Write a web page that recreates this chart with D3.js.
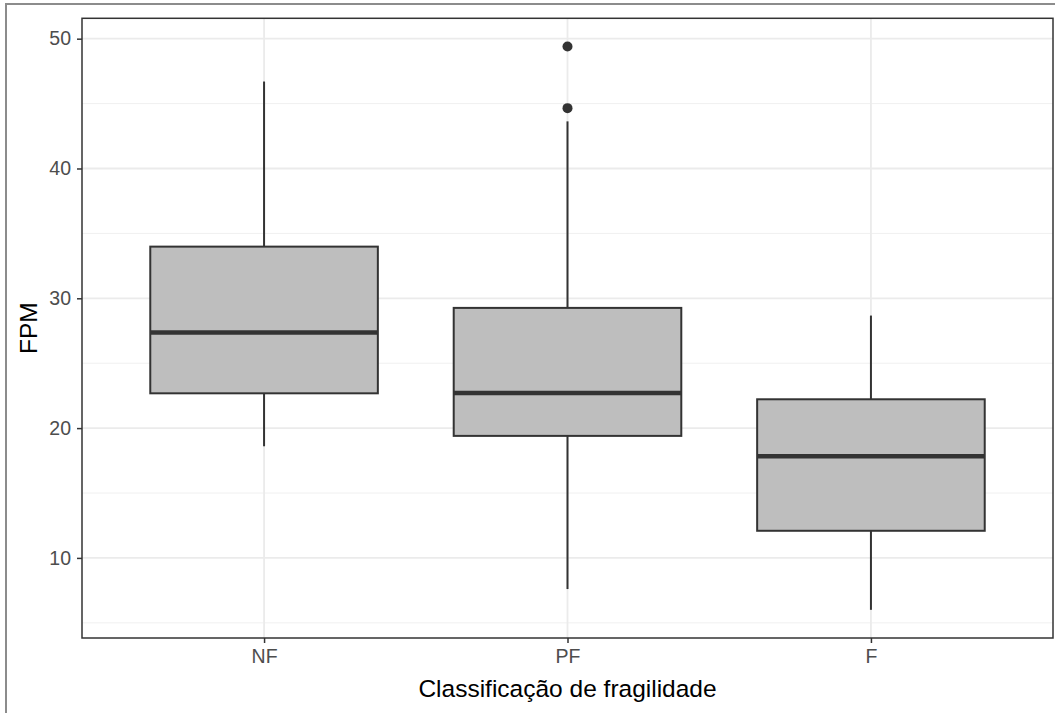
<!DOCTYPE html>
<html>
<head>
<meta charset="utf-8">
<script src="https://cdn.jsdelivr.net/npm/d3@7"></script>
<style>
    body { margin: 0; background: #fff; }
    text { font-family: "Liberation Sans", Arial, sans-serif; }
</style>
</head>
<body>
<script>

    //box plot summaries
    var categories = ["NF", "PF", "F"];
    var whiskerLow = [18.6, 7.6, 6.0];
    var q1Values = [22.68, 19.4, 12.09];
    var medianValues = [27.36, 22.7, 17.84];
    var q3Values = [33.98, 29.26, 22.22];
    var whiskerHigh = [46.7, 43.63, 28.67];
    var outlierValues = [[], [49.4, 44.65], []];

    var yTicks = [10, 20, 30, 40, 50];
    var yMinorTicks = [5, 15, 25, 35, 45];

    //begin script when window loads
    window.onload = setChart();

    function setChart(){

        //frame dimensions
        var width = 1055,
            height = 713;

        var panel = {left: 82, right: 1053, top: 18.3, bottom: 638};

        var svg = d3.select("body")
            .append("svg")
            .attr("width", width)
            .attr("height", height);

        //outer frame (top and left edges visible)
        svg.append("path")
            .attr("d", "M6,713 L6,4 L1055,4")
            .attr("fill", "none")
            .attr("stroke", "#8c8c8c")
            .attr("stroke-width", 2);

        //data range with ggplot-style 5% expansion
        var allValues = whiskerLow.concat(whiskerHigh, d3.merge(outlierValues));
        var lo = d3.min(allValues), hi = d3.max(allValues), pad = (hi - lo) * 0.05;

        var y = d3.scaleLinear()
            .domain([lo - pad, hi + pad])
            .range([panel.bottom, panel.top]);

        //discrete x positions 1..n with 0.6 expansion
        var x = d3.scaleLinear()
            .domain([0.4, categories.length + 0.6])
            .range([panel.left, panel.right]);

        var boxHalf = (x(1.375) - x(1));

        //grid lines
        var grid = svg.append("g");
        grid.selectAll(".minor")
            .data(yMinorTicks.filter(function(d){ return y(d) <= panel.bottom && y(d) >= panel.top; }))
            .enter().append("line")
            .attr("x1", panel.left).attr("x2", panel.right)
            .attr("y1", function(d){ return y(d); })
            .attr("y2", function(d){ return y(d); })
            .attr("stroke", "#f0f0f0")
            .attr("stroke-width", 1);
        grid.selectAll(".major")
            .data(yTicks)
            .enter().append("line")
            .attr("x1", panel.left).attr("x2", panel.right)
            .attr("y1", function(d){ return y(d); })
            .attr("y2", function(d){ return y(d); })
            .attr("stroke", "#ebebeb")
            .attr("stroke-width", 1.8);
        grid.selectAll(".vmajor")
            .data(categories)
            .enter().append("line")
            .attr("x1", function(d, i){ return x(i + 1); })
            .attr("x2", function(d, i){ return x(i + 1); })
            .attr("y1", panel.top).attr("y2", panel.bottom)
            .attr("stroke", "#ebebeb")
            .attr("stroke-width", 1.8);

        //boxes
        var boxes = svg.selectAll(".box")
            .data(categories)
            .enter().append("g")
            .attr("class", "box");

        boxes.append("line")
            .attr("x1", function(d, i){ return x(i + 1); })
            .attr("x2", function(d, i){ return x(i + 1); })
            .attr("y1", function(d, i){ return y(whiskerHigh[i]); })
            .attr("y2", function(d, i){ return y(q3Values[i]); })
            .attr("stroke", "#333")
            .attr("stroke-width", 2);

        boxes.append("line")
            .attr("x1", function(d, i){ return x(i + 1); })
            .attr("x2", function(d, i){ return x(i + 1); })
            .attr("y1", function(d, i){ return y(q1Values[i]); })
            .attr("y2", function(d, i){ return y(whiskerLow[i]); })
            .attr("stroke", "#333")
            .attr("stroke-width", 2);

        boxes.append("rect")
            .attr("x", function(d, i){ return x(i + 1) - boxHalf; })
            .attr("width", boxHalf * 2)
            .attr("y", function(d, i){ return y(q3Values[i]); })
            .attr("height", function(d, i){ return y(q1Values[i]) - y(q3Values[i]); })
            .attr("fill", "#bebebe")
            .attr("stroke", "#333")
            .attr("stroke-width", 2);

        boxes.append("line")
            .attr("x1", function(d, i){ return x(i + 1) - boxHalf; })
            .attr("x2", function(d, i){ return x(i + 1) + boxHalf; })
            .attr("y1", function(d, i){ return y(medianValues[i]); })
            .attr("y2", function(d, i){ return y(medianValues[i]); })
            .attr("stroke", "#333")
            .attr("stroke-width", 4.5);

        //outliers
        outlierValues.forEach(function(vals, i){
            svg.selectAll(".out" + i)
                .data(vals)
                .enter().append("circle")
                .attr("cx", x(i + 1))
                .attr("cy", function(d){ return y(d); })
                .attr("r", 5)
                .attr("fill", "#333");
        });

        //panel border
        svg.append("rect")
            .attr("x", panel.left).attr("y", panel.top)
            .attr("width", panel.right - panel.left)
            .attr("height", panel.bottom - panel.top)
            .attr("fill", "none")
            .attr("stroke", "#333")
            .attr("stroke-width", 1.5);

        //axes
        var yAxis = svg.append("g")
            .attr("transform", "translate(" + panel.left + ",0)")
            .call(d3.axisLeft(y).tickValues(yTicks).tickSize(5).tickPadding(6));

        var xAxis = svg.append("g")
            .attr("transform", "translate(0," + panel.bottom + ")")
            .call(d3.axisBottom(x).tickValues([1, 2, 3])
                .tickFormat(function(d){ return categories[d - 1]; })
                .tickSize(5).tickPadding(6));

        [yAxis, xAxis].forEach(function(ax){
            ax.select(".domain").remove();
            ax.selectAll(".tick line").attr("stroke", "#333").attr("stroke-width", 1.5);
            ax.selectAll(".tick text")
                .attr("fill", "#4d4d4d")
                .style("font-size", "19.5px");
        });

        //axis titles
        svg.append("text")
            .attr("x", (panel.left + panel.right) / 2)
            .attr("y", 697)
            .attr("text-anchor", "middle")
            .style("font-size", "24.5px")
            .attr("fill", "#000")
            .text("Classificação de fragilidade");

        svg.append("text")
            .attr("transform", "translate(37," + (panel.top + panel.bottom) / 2 + ") rotate(-90)")
            .attr("text-anchor", "middle")
            .style("font-size", "24.5px")
            .attr("fill", "#000")
            .text("FPM");

    }; //end of setChart()

</script>
</body>
</html>
